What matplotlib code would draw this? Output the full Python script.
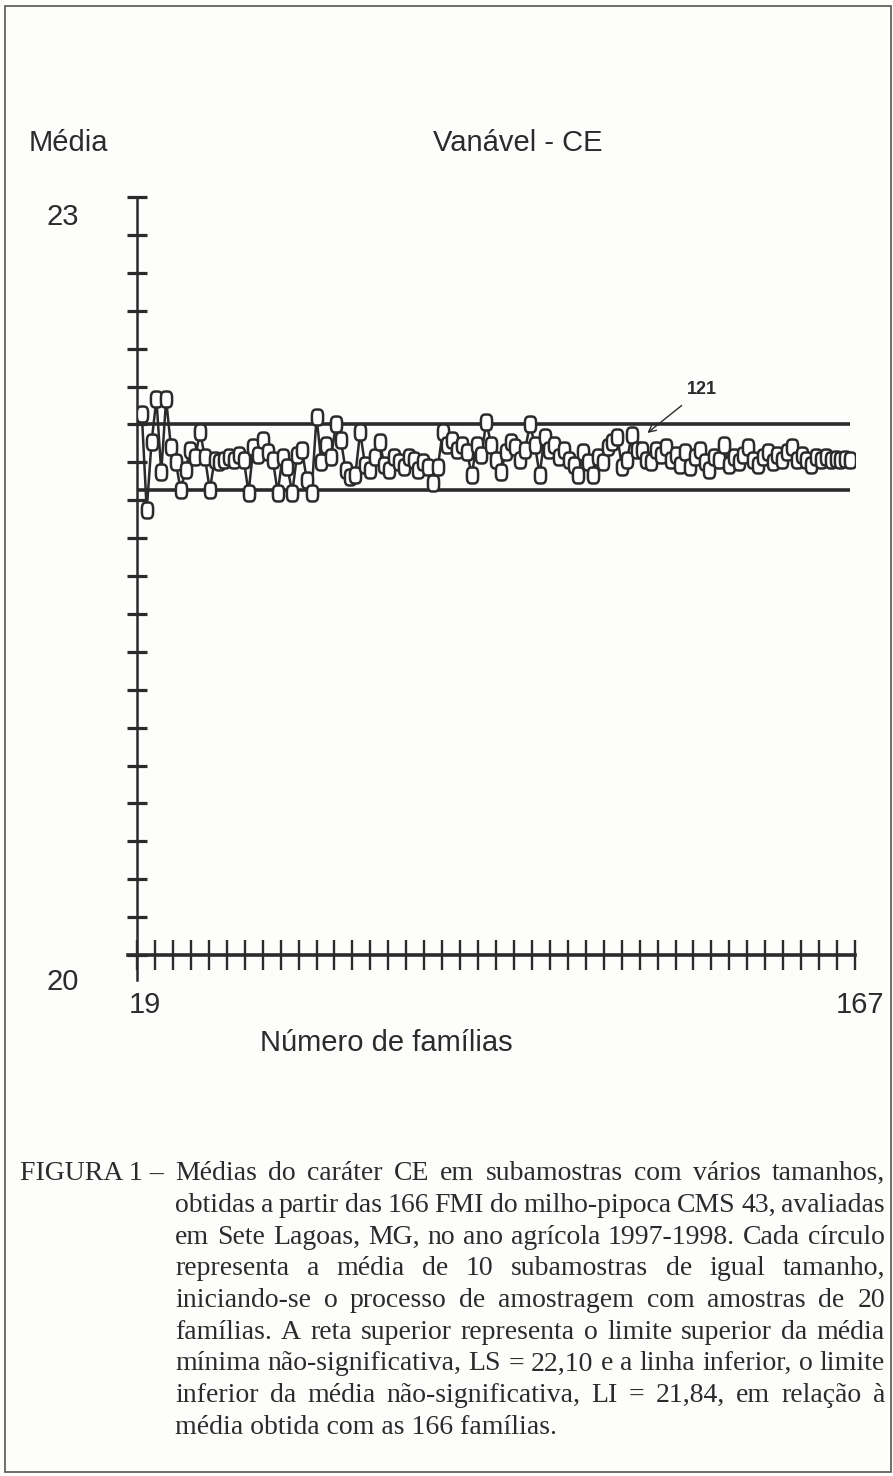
import numpy as np
import matplotlib
matplotlib.use("Agg")
import matplotlib.pyplot as plt
from matplotlib.path import Path
from matplotlib.patches import Rectangle

# chart data
familias = list(range(20, 167))
medias = [
    22.14, 21.76, 22.03, 22.20, 21.91, 22.20, 22.01, 21.95, 21.84, 21.92,
    22.00, 21.97, 22.07, 21.97, 21.84, 21.96, 21.95, 21.96, 21.97, 21.96,
    21.98, 21.96, 21.83, 22.01, 21.98, 22.04, 21.99, 21.96, 21.83, 21.97,
    21.93, 21.83, 21.98, 22.00, 21.88, 21.83, 22.13, 21.95, 22.02, 21.97,
    22.10, 22.04, 21.92, 21.89, 21.90, 22.07, 21.94, 21.92, 21.97, 22.03,
    21.94, 21.92, 21.97, 21.95, 21.93, 21.97, 21.96, 21.92, 21.95, 21.93,
    21.87, 21.93, 22.07, 22.02, 22.04, 22.00, 22.02, 21.99, 21.90, 22.02,
    21.98, 22.11, 22.02, 21.96, 21.91, 21.99, 22.03, 22.01, 21.96, 22.00,
    22.10, 22.02, 21.90, 22.05, 22.00, 22.02, 21.97, 22.00, 21.96, 21.94,
    21.90, 21.99, 21.95, 21.90, 21.97, 21.95, 22.01, 22.03, 22.05, 21.93,
    21.96, 22.06, 22.00, 22.00, 21.96, 21.95, 22.00, 21.98, 22.01, 21.96,
    21.98, 21.94, 21.99, 21.93, 21.97, 22.00, 21.95, 21.92, 21.97, 21.96,
    22.02, 21.94, 21.97, 21.95, 21.98, 22.01, 21.96, 21.94, 21.97, 21.99,
    21.95, 21.98, 21.96, 21.99, 22.01, 21.96, 21.98, 21.96, 21.94, 21.97,
    21.96, 21.97, 21.96, 21.965, 21.96, 21.965, 21.96,
]
LS = 22.10
LI = 21.84
x_range = [19, 167]
y_range = [20, 23]

caption_head = "FIGURA 1 \u2013"
caption_lines = [
    "Médias do caráter CE em subamostras com vários tamanhos,",
    "obtidas a partir das 166 FMI do milho-pipoca CMS 43, avaliadas",
    "em Sete Lagoas, MG, no ano agrícola 1997-1998. Cada círculo",
    "representa a média de 10 subamostras de igual tamanho,",
    "iniciando-se o processo de amostragem com amostras de 20",
    "famílias. A reta superior representa o limite superior da média",
    "mínima não-significativa, LS = 22,10 e a linha inferior, o limite",
    "inferior da média não-significativa, LI = 21,84, em relação à",
    "média obtida com as 166 famílias.",
]

W, H = 893, 1476
ink = "#2b2b2b"
sans = ["Liberation Sans", "DejaVu Sans"]
serif = ["Liberation Serif", "DejaVu Serif"]

fig = plt.figure(figsize=(W / 100, H / 100), dpi=100)
fig.patch.set_facecolor("#fdfdfc")

def fx(px):
    return px / W

def fy(py):
    return 1 - py / H

# page frame of the scan
fig.patches.append(Rectangle((fx(5), fy(1472)), fx(891) - fx(5), fy(6) - fy(1472),
                             transform=fig.transFigure, fill=False,
                             edgecolor="#555555", lw=1.2))

ax = fig.add_axes([fx(137), fy(955), fx(855) - fx(137), (955 - 197) / H])
ax.set_facecolor("none")
ax.set_xlim(x_range)
ax.set_ylim(y_range)

# rounded, slightly tall "circles" as drawn by the old program
t = np.linspace(0, 2 * np.pi, 60)
c, s = np.cos(t), np.sin(t)
oval = Path(np.column_stack([0.7 * np.sign(c) * np.abs(c) ** 0.6,
                             np.sign(s) * np.abs(s) ** 0.6]), closed=True)

ax.hlines([LS, LI], 19, 166, colors=ink, lw=2.6, zorder=2)
ax.plot(familias, medias, color=ink, lw=1.8, marker=oval, ms=11.5,
        mfc="white", mec=ink, mew=1.8, zorder=3)

for side in ["top", "right"]:
    ax.spines[side].set_visible(False)
ax.spines["left"].set_color(ink)
ax.spines["bottom"].set_color(ink)
ax.spines["left"].set_linewidth(1.8)
ax.spines["bottom"].set_linewidth(2.6)
ax.spines["left"].set_bounds(19.9, 23)
ax.spines["bottom"].set_bounds(17.2, 167)

ax.set_xticks(np.linspace(19, 167, 41))
ax.set_yticks(np.linspace(20, 23, 21))
ax.set_xticklabels([])
ax.set_yticklabels([])
ax.tick_params(axis="x", direction="inout", length=22, width=1.7, color=ink)
ax.tick_params(axis="y", direction="inout", length=14, width=2.3, color=ink)

# end labels, placed like the original software did
lab = dict(family=sans, fontsize=21, color=ink, ha="center", va="center",
           textcoords="offset pixels")
ax.annotate("23", xy=(19, 23), xytext=(-74, -20), **lab)
ax.annotate("20", xy=(19, 20), xytext=(-74, -27), **lab)
ax.annotate("19", xy=(19, 20), xytext=(8, -50), **lab)
ax.annotate("167", xy=(167, 20), xytext=(5, -50), **lab)

ax.annotate("121", xy=(124.2, 22.066), xytext=(135.5, 22.24),
            fontsize=13, fontweight="bold", family=sans,
            color=ink, ha="center", va="center",
            arrowprops=dict(arrowstyle="->", color=ink, lw=1.0,
                            shrinkA=6, shrinkB=0))

fig.text(fx(68), fy(143), "Média", family=sans, fontsize=21, color=ink,
         ha="center", va="center")
fig.text(fx(518), fy(143), "Vanável - CE", family=sans, fontsize=21, color=ink,
         ha="center", va="center")
fig.text(fx(386), fy(1043), "Número de famílias", family=sans, fontsize=21,
         color=ink, ha="center", va="center")

# caption, justified between x=175 and x=885
renderer = fig.canvas.get_renderer()
cap = dict(family=serif, fontsize=20, color=ink, va="baseline")
fig.text(fx(20), fy(1180), caption_head, **cap)
x0, x1 = 175, 885
for i, line in enumerate(caption_lines):
    yb = fy(1180 + 31.75 * i)
    if i == len(caption_lines) - 1:
        fig.text(fx(x0), yb, line, **cap)
        continue
    words = line.split()
    items = [fig.text(0, yb, w, **cap) for w in words]
    widths = [it.get_window_extent(renderer).width for it in items]
    gap = (x1 - x0 - sum(widths)) / (len(words) - 1)
    x = x0
    for it, w in zip(items, widths):
        it.set_x(fx(x))
        x += w + gap

fig.savefig("out.png", dpi=100, facecolor=fig.get_facecolor())
